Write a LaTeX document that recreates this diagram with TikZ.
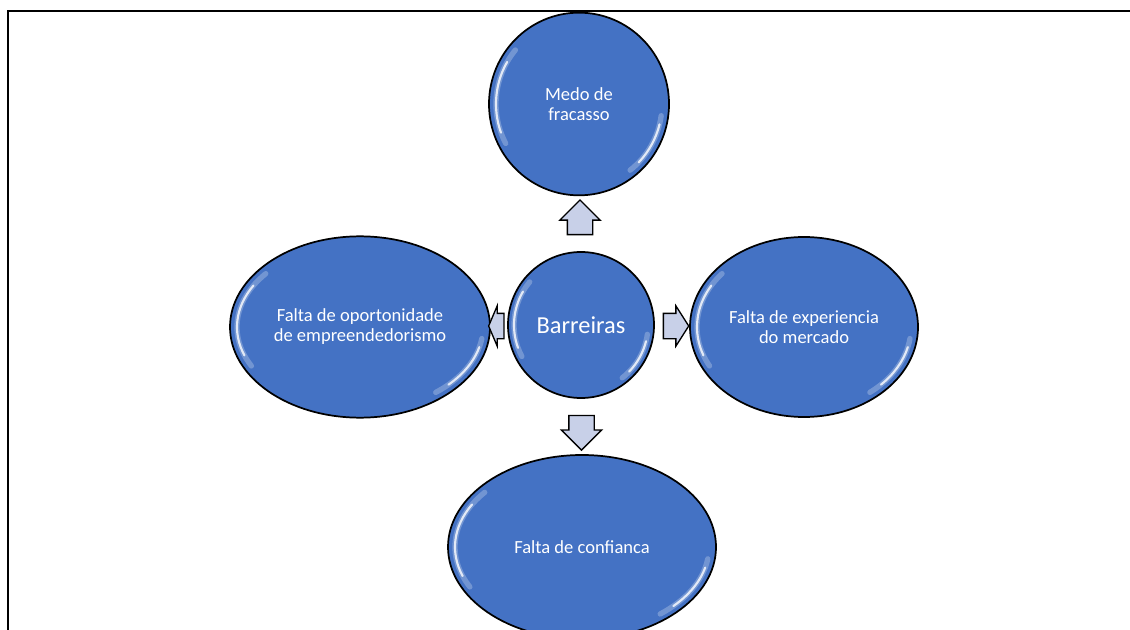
\documentclass[tikz,border=0pt]{standalone}
\usepackage{fontspec}
\setmainfont{Carlito}
\usetikzlibrary{shapes.geometric,shapes.arrows,calc}

\definecolor{bubbleblue}{RGB}{68,114,196}
\definecolor{arrowfill}{RGB}{200,208,232}

\tikzset{
  bubble/.style={ellipse,draw=black,line width=1.3pt,fill=bubbleblue,text=white,
    align=center,inner sep=0pt,font=\fontsize{13.9}{15}\selectfont},
  pointer/.style={single arrow,draw=black,line width=1pt,fill=arrowfill,
    inner xsep=0pt,inner ysep=9pt,single arrow head extend=5.6pt},
  glint/.style={white,line width=1.6pt,line cap=round,opacity=.8},
  glow/.style={white,line width=4pt,line cap=round,opacity=.25}
}

% white gloss on the rim of a bubble: node, x radius, y radius
\newcommand{\glint}[3]{%
  \draw[glow] ($(#1.center)+(140:#2 and #3)$) arc[start angle=140,end angle=208,x radius=#2,y radius=#3];
  \draw[glint] ($(#1.center)+(150:#2 and #3)$) arc[start angle=150,end angle=200,x radius=#2,y radius=#3];
  \draw[glow] ($(#1.center)+(-8:#2 and #3)$) arc[start angle=-8,end angle=-52,x radius=#2,y radius=#3];
  \draw[glint] ($(#1.center)+(-14:#2 and #3)$) arc[start angle=-14,end angle=-44,x radius=#2,y radius=#3];
}

\begin{document}
\begin{tikzpicture}[x=0.75pt,y=0.75pt]
\useasboundingbox (0,0) rectangle (1130,629);
% frame
\draw[line width=1.5pt] (8,-2) -- (8,618) -- (1132,618);

% bubbles
\node[bubble,minimum width=109.5pt,minimum height=109.5pt,font=\fontsize{18.3}{22}\selectfont] (barreiras) at (581,304) {Barreiras};
\node[bubble,minimum width=135pt,minimum height=137pt] (medo) at (579,525) {Medo de\\fracasso};
\node[bubble,minimum width=195pt,minimum height=136pt] (oportunidade) at (360,302) {Falta de oportonidade\\de empreendedorismo};
\node[bubble,minimum width=171pt,minimum height=135pt] (experiencia) at (804,302) {Falta de experiencia\\do mercado};
\node[bubble,minimum width=201pt,minimum height=138pt] (confianca) at (582,82) {Falta de confianca};

\glint{barreiras}{67}{67}
\glint{medo}{83}{84}
\glint{oportunidade}{123}{83}
\glint{experiencia}{107}{83}
\glint{confianca}{127}{85}

% block arrows between the bubbles
\node[pointer,rotate=90,minimum height=26pt] (toMedo) at ($(barreiras.north)!.5!(medo.south)$) {};
\node[pointer,rotate=-90,minimum height=26pt] (toConfianca) at ($(barreiras.south)!.5!(confianca.north)$) {};
\node[pointer,rotate=180,minimum height=11.5pt,single arrow tip angle=134] (toOportunidade) at ($(barreiras.west)!.5!(oportunidade.east)$) {};
\node[pointer,minimum height=19pt,single arrow tip angle=115] (toExperiencia) at ($(barreiras.east)!.5!(experiencia.west)$) {};
\end{tikzpicture}
\end{document}
